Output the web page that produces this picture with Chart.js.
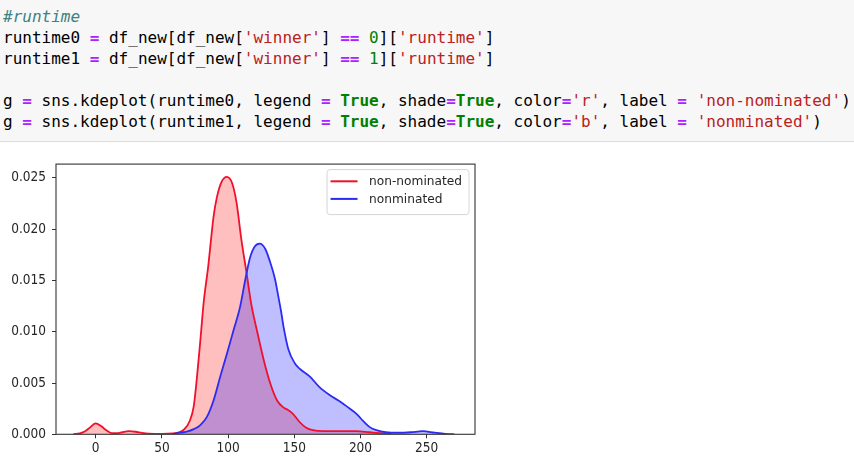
<!DOCTYPE html>
<html>
<head>
<meta charset="utf-8">
<script src="https://cdn.jsdelivr.net/npm/chart.js@4.4.1/dist/chart.umd.min.js"></script>
<style>
  body { margin: 0; background: #fff; width: 854px; height: 471px; overflow: hidden; position: relative; }
  .cell { position: absolute; left: 0; top: 0; width: 854px; height: 141px; background: #f7f7f7; border-bottom: 1px solid #dcdcdc; }
  .cell pre { margin: 0; padding: 6px 0 0 3px; font-family: "DejaVu Sans Mono", monospace; font-size: 16px; line-height: 21px; color: #000; }
  .c { color: #408080; font-style: italic; }
  .o { color: #aa22ff; font-weight: bold; }
  .s { color: #ba2121; }
  .n { color: #008000; }
  .k { color: #008000; font-weight: bold; }
  .plot { position: absolute; left: 0; top: 150px; width: 490px; height: 321px; }
</style>
</head>
<body>
<div class="cell"><pre><span class="c">#runtime</span>
runtime0 <span class="o">=</span> df_new[df_new[<span class="s">'winner'</span>] <span class="o">==</span> <span class="n">0</span>][<span class="s">'runtime'</span>]
runtime1 <span class="o">=</span> df_new[df_new[<span class="s">'winner'</span>] <span class="o">==</span> <span class="n">1</span>][<span class="s">'runtime'</span>]

g <span class="o">=</span> sns.kdeplot(runtime0, legend <span class="o">=</span> <span class="k">True</span>, shade<span class="o">=</span><span class="k">True</span>, color<span class="o">=</span><span class="s">'r'</span>, label <span class="o">=</span> <span class="s">'non-nominated'</span>)
g <span class="o">=</span> sns.kdeplot(runtime1, legend <span class="o">=</span> <span class="k">True</span>, shade<span class="o">=</span><span class="k">True</span>, color<span class="o">=</span><span class="s">'b'</span>, label <span class="o">=</span> <span class="s">'nonminated'</span>)</pre></div>

<div class="plot"><canvas id="kde"></canvas></div>

<script>
// density (runtime in minutes)
const nonNominatedX = [-17, -12, -8, -4, 0, 4, 8, 12, 16, 20, 25, 30, 35, 40, 50, 58, 63, 67, 71, 74, 76.5, 79, 81.5, 85, 89, 91.5, 95, 99, 103, 106.5, 110, 114, 117.5, 122, 127, 132, 137, 142, 145, 149, 154, 159, 164, 172, 190, 197, 207, 215, 223];
const nonNominatedY = [0, 0.0001, 0.0003, 0.0007, 0.00106, 0.0008, 0.0004, 0.00012, 0.0001, 0.0002, 0.0003, 0.00025, 0.00013, 0.00006, 0.00004, 0.00008, 0.0002, 0.0005, 0.0013, 0.0027, 0.0056, 0.0091, 0.0128, 0.0164, 0.0212, 0.0231, 0.0246, 0.0251, 0.0245, 0.0225, 0.019, 0.0157, 0.0127, 0.0100, 0.0072, 0.0049, 0.0033, 0.0026, 0.0024, 0.0020, 0.0012, 0.00064, 0.0004, 0.0003, 0.0003, 0.0003, 0.0002, 0.00012, 0.00005];

const nominatedX = [58, 61, 66, 70, 74, 79, 84, 89, 94, 99, 104, 109, 113, 116.5, 120, 124, 128, 131.5, 135.5, 138, 140, 142, 145.5, 150.5, 154, 162, 169, 177, 184.5, 192, 197, 202, 207, 212, 219, 229, 238, 247, 256, 264, 271];
const nominatedY = [0, 0.0001, 0.0002, 0.0003, 0.0005, 0.0009, 0.0017, 0.0033, 0.0056, 0.0078, 0.0101, 0.0124, 0.0151, 0.0172, 0.0183, 0.0186, 0.0181, 0.0169, 0.0151, 0.0134, 0.0120, 0.0104, 0.0083, 0.0069, 0.0064, 0.0056, 0.0046, 0.0038, 0.0032, 0.0025, 0.0020, 0.0013, 0.0007, 0.0004, 0.0002, 0.00015, 0.0002, 0.0003, 0.00016, 0.00005, 0];

const seriesLabels = ['non-nominated', 'nonminated'];
const xTicks = [0, 50, 100, 150, 200, 250];
const yTicks = [0, 0.005, 0.010, 0.015, 0.020, 0.025];

const toPoints = (xs, ys) => xs.map((x, i) => ({ x: x, y: ys[i] }));

const tickFont = { family: "'DejaVu Sans Condensed', 'DejaVu Sans', sans-serif", size: 13.5 };
const frameColor = '#333333';

// matplotlib style box round the axes
const framePlugin = {
    id: 'frame',
    afterDatasetsDraw(chart) {
        const { ctx, chartArea: a } = chart;
        ctx.save();
        ctx.strokeStyle = frameColor;
        ctx.lineWidth = 1.1;
        ctx.strokeRect(a.left, a.top, a.right - a.left, a.bottom - a.top);
        ctx.restore();
    }
};

// legend drawn inside the axes, top right
const innerLegend = {
    id: 'innerLegend',
    afterDraw(chart) {
        const { ctx, chartArea: a } = chart;
        const sets = chart.data.datasets;
        ctx.save();
        ctx.font = "12.2px 'DejaVu Sans', sans-serif";
        const textW = Math.max(...sets.map(d => ctx.measureText(d.label).width));
        const w = 42 + textW + 7;
        const h = 45;
        const x = a.right - 6 - w;
        const y = a.top + 5.5;
        ctx.beginPath();
        ctx.roundRect(x, y, w, h, 3);
        ctx.fillStyle = 'rgba(255,255,255,0.8)';
        ctx.fill();
        ctx.strokeStyle = '#d6d6d6';
        ctx.lineWidth = 1;
        ctx.stroke();
        ctx.textBaseline = 'middle';
        sets.forEach((d, i) => {
            const ry = y + 11.7 + i * 17.6;
            ctx.beginPath();
            ctx.moveTo(x + 3.5, ry);
            ctx.lineTo(x + 30.5, ry);
            ctx.strokeStyle = d.borderColor;
            ctx.lineWidth = 2;
            ctx.stroke();
            ctx.fillStyle = '#262626';
            ctx.fillText(d.label, x + 42, ry + 0.5);
        });
        ctx.restore();
    }
};

new Chart(document.getElementById('kde'), {
    type: 'line',
    data: {
        datasets: [{
            label: seriesLabels[0],
            data: toPoints(nonNominatedX, nonNominatedY),
            borderColor: '#f0102c',
            backgroundColor: 'rgba(255,0,0,0.25)',
            fill: 'origin',
            order: 1
        }, {
            label: seriesLabels[1],
            data: toPoints(nominatedX, nominatedY),
            borderColor: '#2b2bf2',
            backgroundColor: 'rgba(0,0,255,0.25)',
            fill: 'origin',
            order: 0
        }]
    },
    options: {
        responsive: true,
        maintainAspectRatio: false,
        animation: false,
        layout: { padding: { top: 11.7, right: 15, left: 0, bottom: 0 } },
        elements: {
            point: { radius: 0 },
            line: { borderWidth: 1.8, cubicInterpolationMode: 'monotone' }
        },
        plugins: {
            legend: { display: false },
            tooltip: { enabled: false },
            // all shading first, then both lines on top (like matplotlib zorder)
            filler: { drawTime: 'beforeDatasetsDraw' }
        },
        scales: {
            x: {
                type: 'linear',
                min: -30,
                max: 286.5,
                afterBuildTicks: scale => { scale.ticks = xTicks.map(v => ({ value: v })); },
                afterFit: scale => { scale.height = 36.7; },
                grid: { drawOnChartArea: false, drawTicks: true, tickLength: 4, color: frameColor },
                border: { display: false },
                ticks: { font: tickFont, color: '#262626', padding: 2, maxRotation: 0, autoSkip: false }
            },
            y: {
                type: 'linear',
                min: 0,
                max: 0.02635,
                afterBuildTicks: scale => { scale.ticks = yTicks.map(v => ({ value: v })); },
                afterFit: scale => { scale.width = 56; },
                grid: { drawOnChartArea: false, drawTicks: true, tickLength: 4, color: frameColor },
                border: { display: false },
                ticks: {
                    font: tickFont, color: '#262626', padding: 6, autoSkip: false,
                    callback: v => v.toFixed(3)
                }
            }
        }
    },
    plugins: [framePlugin, innerLegend]
});
</script>
</body>
</html>
